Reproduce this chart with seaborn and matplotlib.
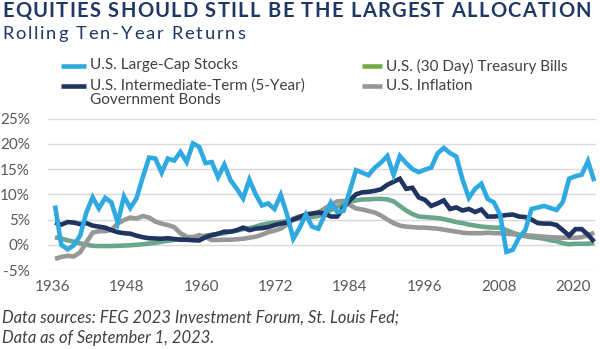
import matplotlib
matplotlib.use("Agg")
import matplotlib.pyplot as plt
import seaborn as sns
import pandas as pd
from matplotlib.lines import Line2D

# ---------------- data ----------------
years = list(range(1936, 2023))
stocks = [7.8, 0.0, -0.9, -0.1, 1.8, 6.4, 9.4, 7.2, 9.3, 8.4,
          4.4, 9.6, 7.3, 9.2, 13.4, 17.3, 17.1, 14.3, 17.1, 16.7,
          18.4, 16.4, 20.1, 19.4, 16.2, 16.4, 13.4, 15.9, 12.8, 11.1,
          9.2, 12.9, 10.0, 7.8, 8.2, 7.1, 9.9, 6.0, 1.2, 3.3,
          6.0, 3.6, 3.2, 5.9, 8.4, 6.5, 6.7, 10.6, 14.8, 14.3,
          13.8, 15.3, 16.3, 17.6, 13.9, 17.6, 16.2, 15.0, 14.4, 14.9,
          15.3, 18.1, 19.2, 18.2, 17.5, 12.9, 9.3, 11.1, 12.1, 9.1,
          8.4, 5.9, -1.4, -1.0, 1.4, 2.9, 7.1, 7.4, 7.7, 7.3,
          6.9, 8.5, 13.1, 13.6, 13.9, 16.6, 12.6]
bonds = [4.4, 4.0, 4.5, 4.4, 4.1, 4.3, 3.8, 3.6, 3.4, 2.9,
         2.5, 2.3, 2.2, 1.8, 1.5, 1.3, 1.25, 1.2, 1.3, 1.15,
         1.0, 1.0, 0.9, 0.85, 1.5, 1.9, 2.2, 2.6, 2.6, 2.9,
         3.4, 2.9, 3.2, 3.3, 3.5, 3.9, 4.2, 4.4, 5.0, 5.5,
         6.0, 6.2, 6.4, 6.2, 5.6, 5.6, 7.4, 8.8, 10.0, 10.4,
         10.5, 10.7, 11.0, 11.9, 12.5, 13.1, 11.1, 11.3, 9.4, 8.9,
         7.7, 8.2, 8.8, 7.1, 7.4, 6.8, 7.1, 6.5, 7.0, 5.6,
         5.6, 5.7, 5.9, 6.0, 5.6, 5.5, 5.0, 4.3, 4.2, 4.2,
         3.9, 2.9, 1.8, 3.1, 3.1, 2.0, 0.6]
bills = [1.5, 1.2, 0.9, 0.6, 0.3, 0.0, -0.2, -0.25, -0.25, -0.25,
         -0.2, -0.15, -0.1, 0.0, 0.1, 0.25, 0.4, 0.6, 0.8, 0.95,
         1.15, 1.35, 1.5, 1.65, 1.8, 2.0, 2.15, 2.3, 2.6, 2.8,
         3.1, 3.3, 3.6, 4.0, 4.2, 4.4, 4.5, 4.7, 5.0, 5.2,
         5.4, 5.5, 5.7, 6.2, 6.9, 7.5, 8.0, 8.5, 8.8, 9.0,
         9.0, 9.1, 9.1, 9.0, 8.6, 7.7, 6.8, 6.1, 5.6, 5.5,
         5.4, 5.3, 5.1, 4.8, 4.5, 4.3, 4.0, 3.8, 3.6, 3.5,
         3.4, 3.4, 2.9, 2.4, 2.0, 1.7, 1.5, 1.4, 1.2, 0.9,
         0.7, 0.3, 0.1, 0.2, 0.2, 0.2, 0.35]
inflation = [-2.8, -2.4, -2.2, -2.3, -1.5, 0.5, 2.4, 2.7, 2.7, 3.0,
             4.2, 4.9, 5.4, 5.2, 5.7, 5.4, 4.6, 4.2, 3.9, 3.5,
             2.3, 1.6, 1.5, 1.9, 1.5, 0.95, 0.95, 1.0, 1.0, 1.1,
             1.2, 1.4, 1.6, 2.0, 2.5, 2.8, 3.2, 4.0, 5.2, 5.6,
             5.8, 6.0, 6.4, 7.2, 7.9, 8.6, 8.7, 7.9, 7.2, 7.0,
             6.7, 6.4, 5.8, 5.0, 4.3, 3.8, 3.6, 3.5, 3.4, 3.4,
             3.3, 3.2, 3.0, 2.8, 2.6, 2.4, 2.3, 2.3, 2.3, 2.4,
             2.3, 2.3, 2.2, 2.1, 1.9, 1.9, 1.8, 1.7, 1.6, 1.5,
             1.45, 1.4, 1.4, 1.4, 1.5, 1.9, 2.4]

series_labels = ["U.S. Large-Cap Stocks",
                 "U.S. Intermediate-Term (5-Year)\nGovernment Bonds",
                 "U.S. (30 Day) Treasury Bills",
                 "U.S. Inflation"]
x_tick_labels = ["1936", "1948", "1960", "1972", "1984", "1996", "2008", "2020"]
y_ticks = [-5, 0, 5, 10, 15, 20, 25]

title = "EQUITIES SHOULD STILL BE THE LARGEST ALLOCATION"
subtitle = "Rolling Ten-Year Returns"
foot1 = "Data sources: FEG 2023 Investment Forum, St. Louis Fed;"
foot2 = "Data as of September 1, 2023."

# ---------------- style ----------------
sns.set_theme(style="white")
plt.rcParams["font.family"] = ["Lato", "DejaVu Sans"]

C_BLUE = "#2ea9e1"
C_NAVY = "#1f3461"
C_GREEN_LINE = "#6aa68c"
C_GREEN_SW = "#70ad47"
C_GRAY = "#979797"
C_TITLE = "#1f3864"
C_TXT = "#404040"
C_TICK = "#595959"

W, H = 600, 349
fig = plt.figure(figsize=(W / 100, H / 100), dpi=100)
fig.patch.set_facecolor("white")

def fx(x):
    return x / W

def fy(y):
    return 1 - y / H

ax = fig.add_axes([fx(48), fy(270), fx(595.6) - fx(48), fy(118.7) - fy(270)])

df = pd.DataFrame({"year": years, "stocks": stocks, "bonds": bonds,
                   "bills": bills, "inflation": inflation})

lw = 3.3
for col, colr in [("bills", C_GREEN_LINE), ("inflation", C_GRAY),
                  ("bonds", C_NAVY), ("stocks", C_BLUE)]:
    sns.lineplot(data=df, x="year", y=col, ax=ax, color=colr, linewidth=lw,
                 legend=False, clip_on=False)
for line in ax.lines:
    line.set_solid_joinstyle("miter")
    line.set_solid_capstyle("butt")

ax.set_xlim(1934.88, 2022.22)
ax.set_ylim(-5, 25)
ax.set_xlabel("")
ax.set_ylabel("")
for s in ax.spines.values():
    s.set_visible(False)
ax.set_yticks(y_ticks)
ax.set_yticklabels([f"{v}%" for v in y_ticks])
ax.yaxis.grid(True, color="#d9d9d9", linewidth=1.0)
ax.set_axisbelow(True)
tick_pos = [1935.6 + (int(t) - 1936) * 0.9884 for t in x_tick_labels]
ax.set_xticks(tick_pos)
ax.set_xticklabels(x_tick_labels)
ax.tick_params(axis="both", length=0, labelsize=11, colors=C_TICK)
ax.tick_params(axis="y", pad=13)
ax.tick_params(axis="x", pad=7)

renderer = fig.canvas.get_renderer()

def adv(ch, **kw):
    t1 = fig.text(0, 0, "x" + ch + "x", **kw)
    t2 = fig.text(0, 0, "xx", **kw)
    w = t1.get_window_extent(renderer).width - t2.get_window_extent(renderer).width
    t1.remove(); t2.remove()
    return w

def spaced_text(s, x_px, y_px, target_w, **kw):
    advs = [adv(c, **kw) for c in s]
    natural = sum(advs)
    last = fig.text(0, 0, s[-1], **kw)
    lw_last = last.get_window_extent(renderer).width
    last.remove()
    natural = natural - advs[-1] + lw_last
    sp = (target_w - natural) / (len(s) - 1)
    x = x_px
    for c, a in zip(s, advs):
        fig.text(fx(x), fy(y_px), c, ha="left", va="center", **kw)
        x += a + sp

spaced_text(title, 2, 11, 589, fontsize=14.5, fontweight="bold", color=C_TITLE)
spaced_text(subtitle, 2, 34, 243, fontsize=13.2, color=C_TITLE)

# legend (drawn manually in figure space)
leg_fs = 11.0
entries = [(C_BLUE, 55, 88, 66, series_labels[0]),
           (C_NAVY, 55, 88, 86, series_labels[1]),
           (C_GREEN_SW, 356, 384, 66, series_labels[2]),
           (C_GRAY, 356, 384, 86, series_labels[3])]
for colr, x0, x1, yc, lab in entries:
    fig.add_artist(Line2D([fx(x0 + 6), fx(x1 - 2)], [fy(yc), fy(yc)],
                          transform=fig.transFigure, color=colr, linewidth=3.3,
                          solid_capstyle="butt"))
    fig.text(fx(x1 + 2), fy(yc - 7.5), lab, ha="left", va="top", fontsize=leg_fs,
             color=C_TXT, linespacing=1.05)

fig.text(fx(2), fy(318), foot1, ha="left", va="center", fontsize=11.9,
         style="italic", color=C_TXT)
fig.text(fx(2), fy(338), foot2, ha="left", va="center", fontsize=11.9,
         style="italic", color=C_TXT)

fig.savefig("out.png", dpi=100, facecolor="white")
